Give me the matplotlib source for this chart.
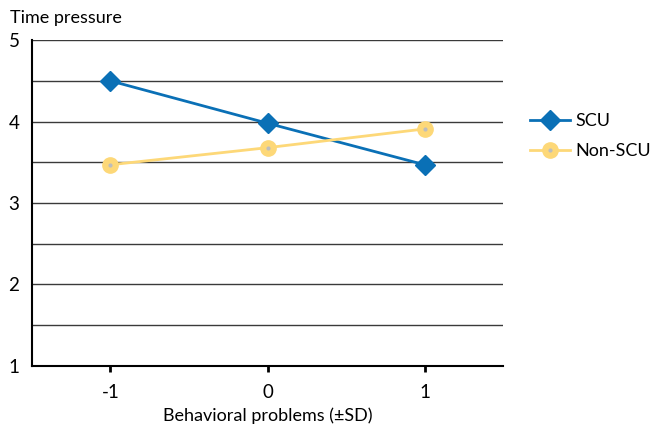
import matplotlib
matplotlib.use("Agg")
from matplotlib import pyplot as plt
from matplotlib.legend_handler import HandlerTuple

plt.rcParams['font.family'] = ['Lato', 'DejaVu Sans']

x_vals = [-1, 0, 1]
x_labels = ['-1', '0', '1']
scu = [4.50, 3.98, 3.47]
non_scu = [3.47, 3.68, 3.91]
y_ticks = [1, 2, 3, 4, 5]

blue = '#0a70b6'
yellow = '#fdd878'

fig = plt.figure(figsize=(6.51, 4.32), dpi=100)
ax = fig.add_axes([0.049, 0.153, 0.724, 0.754])

# grid at every half unit
for g in [1.5, 2, 2.5, 3, 3.5, 4, 4.5, 5]:
	ax.axhline(g, color='#3a3a3a', lw=1.0, zorder=1)

l1, = ax.plot(x_vals, scu, color=blue, lw=2, marker='D', ms=10, mec=blue, mfc=blue, zorder=3)
l2, = ax.plot(x_vals, non_scu, color=yellow, lw=2, marker='o', ms=11, mec=yellow, mfc=yellow, zorder=3)
d2, = ax.plot(x_vals, non_scu, ls='none', marker='o', ms=3, mfc='#bdbdbd', mec='none', zorder=4)

ax.set_xlim(-1.5, 1.5)
ax.set_ylim(1, 5)
ax.set_xticks(x_vals)
ax.set_xticklabels(x_labels, fontsize=13.5)
ax.set_yticks(y_ticks)
ax.set_yticklabels([str(v) for v in y_ticks], fontsize=13.5)
ax.tick_params(axis='y', length=0, pad=9)
ax.tick_params(axis='x', length=4, width=2, direction='out', pad=9)
for s in ['top', 'right']:
	ax.spines[s].set_visible(False)
ax.spines['left'].set_linewidth(1.5)
ax.spines['bottom'].set_linewidth(1.5)

ax.set_xlabel('Behavioral problems (±SD)', fontsize=13, labelpad=5)
fig.text(0.015, 0.958, 'Time pressure', fontsize=13, ha='left', va='center')

fig.legend([l1, (l2, d2)], ['SCU', 'Non-SCU'],
	handler_map={tuple: HandlerTuple(ndivide=1)},
	loc='center left', bbox_to_anchor=(0.814, 0.685), frameon=False,
	borderpad=0, borderaxespad=0,
	fontsize=13, handlelength=2.2, handletextpad=0.3, labelspacing=0.75)

fig.savefig('out.png', dpi=100)
